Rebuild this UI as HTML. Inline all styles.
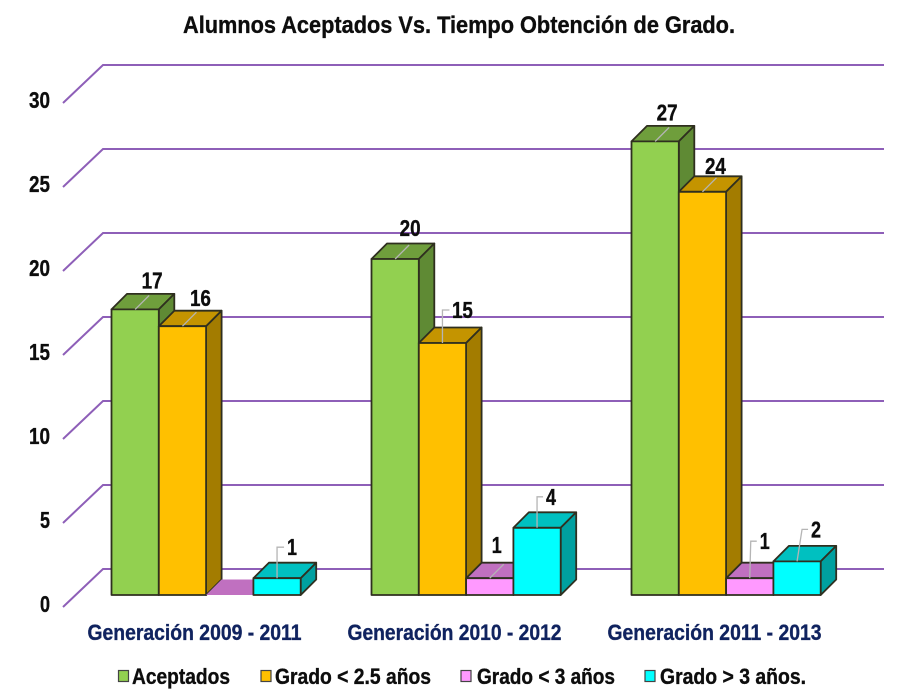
<!DOCTYPE html>
<html lang="es">
<head>
<meta charset="utf-8">
<title>Alumnos Aceptados Vs. Tiempo Obtención de Grado</title>
<style>
html,body{margin:0;padding:0;background:#fff;width:900px;height:700px;overflow:hidden}
svg{display:block}
text{font-family:"Liberation Sans",Arial,sans-serif;font-weight:bold;fill:#0d0d0d;stroke:#0d0d0d;stroke-width:.35px}
</style>
</head>
<body>
<svg id="chart" xmlns="http://www.w3.org/2000/svg" width="900" height="700" viewBox="0 0 900 700">
  <rect x="0" y="0" width="900" height="700" fill="#fff"/>
  <text x="459" y="33" font-size="24" text-anchor="middle" textLength="552" lengthAdjust="spacingAndGlyphs">Alumnos Aceptados Vs. Tiempo Obtención de Grado.</text>
  <g id="grid"></g>
  <g id="ticks"></g>
  <g id="bars"></g>
  <g id="values"></g>
  <g id="cats"></g>
  <g>
    <g>
      <rect x="118.500" y="670.500" width="10" height="11" fill="#92D050" stroke="#444" stroke-width="1.200"/>
      <text x="132" y="684" font-size="22" textLength="98" lengthAdjust="spacingAndGlyphs">Aceptados</text>
    </g>
    <g>
      <rect x="261" y="670.500" width="10" height="11" fill="#FFC000" stroke="#444" stroke-width="1.200"/>
      <text x="275" y="684" font-size="22" textLength="156" lengthAdjust="spacingAndGlyphs">Grado &lt; 2.5 años</text>
    </g>
    <g>
      <rect x="461" y="670.500" width="10" height="11" fill="#FF99FF" stroke="#444" stroke-width="1.200"/>
      <text x="477" y="684" font-size="22" textLength="138" lengthAdjust="spacingAndGlyphs">Grado &lt; 3 años</text>
    </g>
    <g>
      <rect x="645" y="670.500" width="10" height="11" fill="#00FFFF" stroke="#444" stroke-width="1.200"/>
      <text x="660" y="684" font-size="22" textLength="146" lengthAdjust="spacingAndGlyphs">Grado &gt; 3 años.</text>
    </g>
  </g>
</svg>
<script>
const categories = ["Generación 2009 - 2011", "Generación 2010 - 2012", "Generación 2011 - 2013"];
const aceptados = [17, 20, 27];
const gradoMenos25 = [16, 15, 24];
const gradoMenos3 = [0, 1, 1];
const gradoMas3 = [1, 4, 2];
const yTicks = [0, 5, 10, 15, 20, 25, 30];

const NS = "http://www.w3.org/2000/svg";
const seriesValues = [aceptados, gradoMenos25, gradoMenos3, gradoMas3];
const seriesKeys = ["aceptados", "grado-2-5", "grado-3", "grado-mas-3"];
const palette = [
  {front:"#92D050", top:"#6F9E3C", side:"#5F8A34"},
  {front:"#FFC000", top:"#C49400", side:"#A37C00"},
  {front:"#FF99FF", top:"#C070C0", side:"#A85FA8"},
  {front:"#00FFFF", top:"#00C0C0", side:"#00A0A0"}
];
const UNIT = 16.8, BASE = 595, DEPTH = 15.500, BAR_W = 47.300, GROUP_X0 = 111.500, GROUP_STEP = 260;
const BACK_ZERO = 569, GRID_L = 103, GRID_R = 884, SLANT_X = 40, SLANT_Y = 38;

function yFront(v) { return BASE - v * UNIT; }
function yBack(v) { return BACK_ZERO - v * UNIT; }
function barX(g, s) { return GROUP_X0 + g * GROUP_STEP + s * BAR_W; }

function make(tag, attrs) {
  const el = document.createElementNS(NS, tag);
  for (const k in attrs) el.setAttribute(k, attrs[k]);
  return el;
}

const grid = document.getElementById("grid");
const ticks = document.getElementById("ticks");
yTicks.forEach(function (t) {
  const y = yBack(t);
  const line = make("polyline", {
    points: (GRID_L - SLANT_X) + "," + (y + SLANT_Y) + " " + GRID_L + "," + y + " " + GRID_R + "," + y,
    fill: "none", stroke: "#8E5FB8", "stroke-width": 2
  });
  
  
  grid.appendChild(line);
  const label = make("text", {
    x: 50, y: y + SLANT_Y + 5, "font-size": 23, "text-anchor": "end",
    textLength: String(t).length > 1 ? 21 : 10, lengthAdjust: "spacingAndGlyphs"
  });
  label.textContent = t;
  
  
  ticks.appendChild(label);
});

const bars = document.getElementById("bars");
categories.forEach(function (cat, g) {
  seriesValues.forEach(function (vals, s) {
    const v = vals[g], x = barX(g, s), w = BAR_W, y = yFront(v), c = palette[s];
    const group = make("g", {stroke: "#2f2f1f", "stroke-width": 1.800, "stroke-linejoin": "round"});
    
    
    const top = make("polygon", {
      points: [x, y, x + DEPTH, y - DEPTH, x + w + DEPTH, y - DEPTH, x + w, y].join(" "),
      fill: c.top
    });
    if (v === 0) top.setAttribute("stroke", "none");
    group.appendChild(top);
    if (v > 0) {
      const side = make("polygon", {
        points: [x + w, y, x + w + DEPTH, y - DEPTH, x + w + DEPTH, BASE - DEPTH, x + w, BASE].join(" "),
        fill: c.side
      });
      group.appendChild(side);
      const front = make("rect", {x: x, y: y, width: w, height: BASE - y, fill: c.front});
      group.appendChild(front);
    }
    bars.appendChild(group);
  });
  const cl = make("text", {
    x: barX(g, 0) + 83, y: 640, "font-size": 22, "text-anchor": "middle",
    textLength: 214, lengthAdjust: "spacingAndGlyphs"
  });
  cl.style.fill = "#10235F";
  cl.style.stroke = "#10235F";
  cl.textContent = cat;
  
  
  document.getElementById("cats").appendChild(cl);
});

/* Placement of each printed label relative to the top of its bar: dx, dy, leader elbow dx */
function labelLayout(g, s) {
  const table = {
    "0-0": [17, -29, null], "0-1": [18, -28, null], "0-3": [15, -31, 0],
    "1-0": [15, -31, null], "1-1": [20, -33, 0], "1-2": [7, -33, null], "1-3": [14, -31, 0],
    "2-0": [12, -29, null], "2-1": [13, -26, null], "2-2": [15, -37, 1], "2-3": [19, -32, 5]
  };
  return table[g + "-" + s];
}

const valuesLayer = document.getElementById("values");
categories.forEach(function (cat, g) {
  seriesValues.forEach(function (vals, s) {
    const v = vals[g];
    const layout = labelLayout(g, s);
    if (!layout || v === 0) return;
    const cx = barX(g, s) + BAR_W / 2, ty = yFront(v);
    const lx = cx + layout[0], ly = ty + layout[1];
    const pts = layout[2] === null
      ? [cx, ty, cx + 14, ty - 14]
      : [cx, ty, cx + layout[2], ly, lx - String(v).length * 5 - 3, ly];
    const leader = make("polyline", {points: pts.join(" "), fill: "none", stroke: "#b5b5b5", "stroke-width": 1.300});
    
    
    valuesLayer.appendChild(leader);
    const t = make("text", {
      x: lx, y: ly + 8, "font-size": 23, "text-anchor": "middle",
      textLength: String(v).length > 1 ? 21 : 10, lengthAdjust: "spacingAndGlyphs"
    });
    t.textContent = v;
    
    
    valuesLayer.appendChild(t);
  });
});
</script>
</body>
</html>
